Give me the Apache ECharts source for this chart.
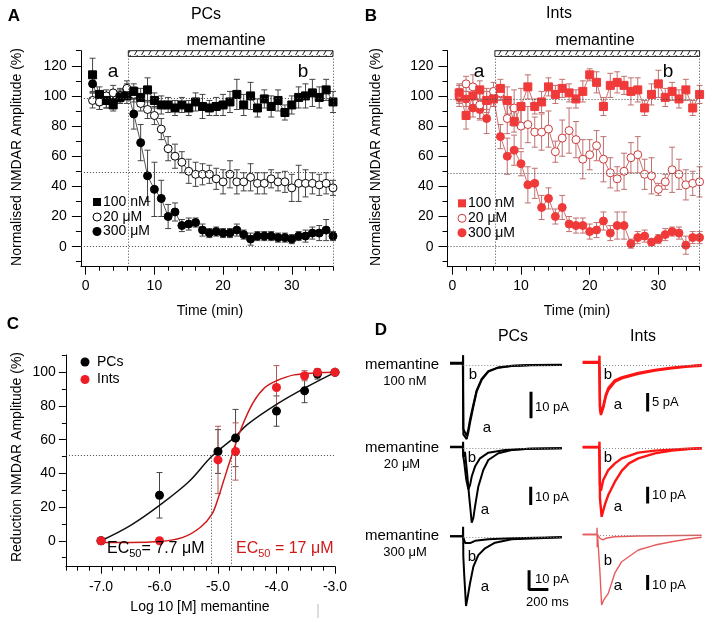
<!DOCTYPE html>
<html>
<head>
<meta charset="utf-8">
<script src="https://cdn.jsdelivr.net/npm/echarts@6/dist/echarts.min.js"></script>
<style>html,body{margin:0;padding:0;background:#fff}#main{width:709px;height:625px}</style>
</head>
<body>
<div id="main"></div>
<script>
// ---------- data ----------
var minutes = [1,2,3,4,5,6,7,8,9,10,11,12,13,14,15,16,17,18,19,20,21,22,23,24,25,26,27,28,29,30,31,32,33,34,35,36];

// panel A (PCs)
var pc100 = [114,101,97,94,99,100,103,99,104,97,94,94,92,94,92,96,93,92,93,94,96,101,94,100,92,98,93,97,89,94,99,100,102,99,104,96];
var pc100Err = [11,5,5,4,4,5,5,6,8,5,6,5,5,5,5,6,8,5,6,7,7,10,7,9,6,6,7,7,5,6,7,8,9,7,7,7];
var pc20 = [97,96,100,102,100,105,101,95,91,87,78,65,60,56,50,48,48,48,45,43,48,43,43,46,42,42,45,43,43,39,42,42,42,41,42,39];
var pc20Err = [5,5,4,5,5,5,5,5,6,6,7,8,8,7,8,8,7,6,7,8,9,8,6,9,7,7,6,6,7,9,12,9,7,7,7,5];
var pc300 = [108,96,97,96,100,104,88,69,47,38,32,20,23,14,15,16,11,9,10,9,9,11,8,5,7,7,7,6,6,5,7,7,9,9,11,7];
var pc300Err = [6,5,5,4,4,4,10,12,17,18,12,8,6,4,4,3,4,3,3,3,3,4,3,4,3,3,3,3,3,3,3,4,4,5,7,3];

// panel B (Ints)
var in100 = [102,87,100,104,97,98,105,97,83,93,106,93,96,106,101,105,102,98,103,114,109,93,107,109,107,103,104,92,101,108,99,103,98,104,92,101];
var in100Err = [6,9,7,6,6,5,6,9,7,12,8,5,7,6,6,6,6,6,7,4,7,6,8,7,6,9,8,5,7,9,6,6,6,7,5,6];
var in20 = [101,108,106,94,97,103,102,85,92,80,81,76,76,78,63,72,77,71,58,61,67,58,49,45,50,59,61,48,47,38,43,51,48,41,42,43];
var in20Err = [6,5,8,10,8,6,5,10,12,15,12,10,12,12,7,12,15,12,13,10,10,15,10,8,12,10,12,10,12,4,5,15,10,10,8,10];
var in300 = [99,98,92,91,85,99,73,60,64,55,41,42,26,32,20,26,15,14,14,10,11,17,9,14,14,2,6,7,3,5,8,10,9,1,6,6];
var in300Err = [6,5,6,6,10,6,8,12,10,8,12,10,8,7,5,8,5,5,5,5,5,6,5,9,9,3,4,4,2,3,4,3,4,6,4,4];

// panel C (dose response)
var logConc = [-7,-6,-5,-4.7,-4,-3.52,-3.3,-3];
var crPCs = [0,27,53,61,77,89,99,100];
var crPCsErr = [1,13.5,13,17,9,7,3,0];
var crInts = [0,0,48,53,91,98,100,100];
var crIntsErr = [2,0,20,17,13,3,2,0];
var fitPCs = [[-7,0],[-6.5,9],[-6,21],[-5.5,35],[-5.11,50],[-4.7,62],[-4.5,69],[-4,81],[-3.5,91],[-3,100]];
var fitInts = [[-7,-1],[-6.5,-1],[-6,-0.5],[-5.6,2],[-5.3,8],[-5.1,16],[-5,25],[-4.9,36],[-4.77,50],[-4.6,67],[-4.4,82],[-4.2,91],[-4,95],[-3.7,98.5],[-3.3,99.7],[-3,100]];

// tick values
var timeTicks = [0,10,20,30];
var timeMinor = [0,2,4,6,8,10,12,14,16,18,20,22,24,26,28,30,32,34,36];
var ampTicks = [0,20,40,60,80,100,120];
var ampMinor = [-10,10,30,50,70,90,110,130];
var logTicks = [-7,-6,-5,-4,-3];
var logMinor = [-7.6,-7.4,-7.2,-7,-6.8,-6.6,-6.4,-6.2,-6,-5.8,-5.6,-5.4,-5.2,-5,-4.8,-4.6,-4.4,-4.2,-4,-3.8,-3.6,-3.4,-3.2,-3];
var redTicks = [0,20,40,60,80,100];
var redMinor = [-10,10,30,50,70,90,110];

// panel D traces: [ms from stimulus, pA]
var pcA1 = [[-138,0.8],[-5,0.8],[-2,3.7],[0,-26],[35,-27.8],[50,-25.5],[69,-21.8],[104,-15.6],[138,-10],[190,-5.6],[259,-2.5],[363,-1.0],[501,-0.4],[700,-0.1],[1020,0]];
var pcB1 = [[-138,0.5],[-5,0.5],[0,-24],[33,-26.5],[50,-24.5],[69,-20.5],[104,-14.8],[138,-9.5],[190,-5.2],[259,-2.3],[363,-0.9],[501,-0.3],[700,0],[1020,0.1]];
var pcA2 = [[-138,0.8],[-5,0.8],[-2,3.6],[0,-4.6],[17,-2],[40,-14],[60,-26],[75,-34],[87,-40.6],[104,-38],[121,-31.9],[155,-21],[207,-11.9],[259,-6.4],[363,-2.7],[501,-0.9],[673,-0.3],[1020,0]];
var pcB2 = [[-138,0.5],[-5,0.5],[0,-4.6],[10,-8],[30,-17],[52,-22.4],[70,-20],[87,-15.4],[121,-10],[173,-5.5],[259,-2.4],[432,-0.9],[700,-0.2],[1020,0]];
var pcA3 = [[-138,0.5],[-5,0.5],[-2,5.5],[0,-10],[10,-20],[28,-35.6],[45,-31],[69,-23.9],[104,-15.2],[155,-9.2],[225,-5.7],[328,-2.8],[501,-1.0],[777,-0.5],[1020,0]];
var pcB3 = [[-138,0.5],[-5,0.5],[0,0],[20,-3],[40,-4],[70,-3],[121,-1.8],[259,-1],[500,-0.5],[1020,0]];
var inA1 = [[-179,0.8],[-8,0.8],[-5,2.5],[0,-12],[10,-13.4],[20,-13],[34,-11.5],[60,-8.5],[86,-6.7],[155,-4.5],[225,-3.6],[397,-2.4],[570,-1.5],[743,-0.9],[915,-0.4],[1054,-0.2]];
var inB1 = [[-179,0.6],[-8,0.6],[0,-11],[10,-12.6],[20,-12.3],[34,-11],[60,-8],[86,-6.2],[155,-4.1],[225,-3.3],[397,-2.1],[570,-1.3],[743,-0.7],[915,-0.3],[1054,0]];
var inA2 = [[-179,0.8],[-8,0.8],[-5,4],[0,-30],[17,-41],[35,-37],[55,-33],[86,-28],[155,-20],[225,-13.5],[300,-9],[397,-6],[570,-3],[743,-1.4],[915,-0.5],[1054,0]];
var inB2 = [[-179,0.6],[-8,0.6],[0,-22],[10,-25.4],[34,-19],[86,-13],[155,-9],[225,-6],[397,-2.6],[570,-1.4],[915,-0.3],[1054,0]];
var inA3 = [[-179,0.5],[-32,0.5],[-30,5],[-28,-8],[-25,0],[0,-25],[17,-46.5],[40,-43],[86,-38.7],[155,-25],[225,-17.6],[397,-9.8],[570,-6.5],[743,-4.3],[915,-2.5],[1054,-1.3]];
var inB3 = [[-179,0.5],[-25,0.5],[0,-2],[30,-3],[60,-2],[150,-1],[400,-0.5],[1054,0]];

// ---------- chart ----------
var FONT = '"Liberation Sans", Arial, sans-serif';
var chart = echarts.init(document.getElementById('main'));

function zip(xs, ys) { return xs.map(function (x, i) { return [x, ys[i]]; }); }
function zip3(xs, ys, es) { return xs.map(function (x, i) { return [x, ys[i], es[i]]; }); }

var grids = [], xAxes = [], yAxes = [], series = [], graphics = [];

function axisPair(list, gi, min, max, major, minor, fmt, pos, majLen, minLen, margin) {
  list.push({
    type: 'value', gridIndex: gi, min: min, max: max, position: pos,
    axisLine: { show: true, onZero: false, lineStyle: { color: '#000', width: 1 } },
    axisTick: { show: true, customValues: major, length: majLen, lineStyle: { color: '#000' } },
    axisLabel: { show: true, customValues: major, formatter: fmt, margin: margin, color: '#000', fontSize: 14, fontFamily: FONT },
    splitLine: { show: false }
  });
  list.push({
    type: 'value', gridIndex: gi, min: min, max: max, position: pos,
    axisLine: { show: false, onZero: false },
    axisTick: { show: true, customValues: minor, length: minLen, lineStyle: { color: '#000' } },
    axisLabel: { show: false }, splitLine: { show: false }
  });
}

function errBars(xi, yi, data, color) {
  return {
    type: 'custom', xAxisIndex: xi, yAxisIndex: yi, data: data, z: 1, silent: true,
    renderItem: function (params, api) {
      var x = api.value(0), y = api.value(1), e = api.value(2);
      if (!e) return null;
      var t = api.coord([x, y + e]), b = api.coord([x, y - e]);
      var st = { stroke: color, lineWidth: 1 };
      return { type: 'group', children: [
        { type: 'line', shape: { x1: t[0], y1: t[1], x2: b[0], y2: b[1] }, style: st },
        { type: 'line', shape: { x1: t[0] - 3, y1: t[1], x2: t[0] + 3, y2: t[1] }, style: st },
        { type: 'line', shape: { x1: b[0] - 3, y1: b[1], x2: b[0] + 3, y2: b[1] }, style: st }
      ] };
    }
  };
}

function pts(xi, yi, data, symbol, size, fill, border, lineColor, extra) {
  var s = {
    type: 'line', xAxisIndex: xi, yAxisIndex: yi, data: data, z: 3,
    symbol: symbol, symbolSize: size, showAllSymbol: true,
    itemStyle: { color: fill, borderColor: border, borderWidth: 1, opacity: 1 },
    lineStyle: { color: lineColor, width: 1 }, silent: true
  };
  for (var k in extra) s[k] = extra[k];
  return s;
}

function txt(x, y, s, size, opt) {
  opt = opt || {};
  graphics.push({
    type: 'text', x: x, y: y, rotation: opt.rot || 0, z: 100, silent: true,
    style: {
      text: s, fill: opt.color || '#000', font: (opt.bold ? 'bold ' : '') + size + 'px ' + FONT,
      textAlign: opt.align || 'center', textVerticalAlign: 'middle', rich: opt.rich
    }
  });
}

// hatch pattern for the drug bar
var hatch = document.createElement('canvas');
hatch.width = 7; hatch.height = 5;
var hc = hatch.getContext('2d');
hc.fillStyle = '#fff'; hc.fillRect(0, 0, 7, 5);
hc.strokeStyle = '#222'; hc.lineWidth = 1;
hc.beginPath(); hc.moveTo(1.5, 5); hc.lineTo(4.5, 0); hc.stroke();

var dotted = { type: [1, 2], color: '#444', width: 1 };

// ---- panels A and B ----
function timePanel(gi, left, s100, e100, s20, e20, s300, e300, col) {
  grids.push({ left: left, top: 50.7, width: 252.1, height: 216 });
  var xi = xAxes.length, yi = yAxes.length;
  axisPair(xAxes, gi, -0.7, 36, timeTicks, timeMinor, function (v) { return v; }, 'bottom', 8, 4, 12);
  axisPair(yAxes, gi, -13.3, 130, ampTicks, ampMinor, function (v) { return v; }, 'left', 9, 5, 14);
  series.push(errBars(xi, yi, zip3(minutes, s300, e300), col.err));
  series.push(errBars(xi, yi, zip3(minutes, s20, e20), col.err));
  series.push(errBars(xi, yi, zip3(minutes, s100, e100), col.err));
  series.push(pts(xi, yi, zip(minutes, s300), 'circle', 8, col.pt, col.pt, col.line, {}));
  series.push(pts(xi, yi, zip(minutes, s20), 'circle', 8, '#fff', col.open, col.line, {}));
  series.push(pts(xi, yi, zip(minutes, s100), 'rect', 8, col.pt, col.pt, col.line, {
    markLine: {
      silent: true, symbol: ['none', 'none'], label: { show: false }, lineStyle: dotted, animation: false,
      data: [
        [{ coord: [-0.7, col.h1] }, { coord: [36, col.h1] }],
        [{ coord: [-0.7, col.h2] }, { coord: [36, col.h2] }],
        [{ coord: [-0.7, 0] }, { coord: [36, 0] }],
        [{ coord: [6.2, -13.3] }, { coord: [6.2, 126] }],
        [{ coord: [36, -13.3] }, { coord: [36, 126] }]
      ]
    },
    markArea: {
      silent: true, animation: false,
      itemStyle: { color: { image: hatch, repeat: 'repeat' }, borderColor: '#222', borderWidth: 1, opacity: 1 },
      data: [[{ coord: [6.2, 126.2] }, { coord: [36, 130] }]]
    }
  }));
}

timePanel(0, 80.9, pc100, pc100Err, pc20, pc20Err, pc300, pc300Err,
  { pt: '#000', open: '#000', line: '#555', err: '#444', h1: 98.4, h2: 49.3 });
timePanel(1, 447.5, in100, in100Err, in20, in20Err, in300, in300Err,
  { pt: '#f03a3a', open: '#cc3a3a', line: '#d07070', err: '#c07070', h1: 97.9, h2: 48.7 });

// ---- panel C ----
grids.push({ left: 65.9, top: 355, width: 269.1, height: 211.7 });
axisPair(xAxes, 2, -7.6, -3.0, logTicks, logMinor, function (v) { return v.toFixed(1); }, 'bottom', 7, 4, 13);
axisPair(yAxes, 2, -15.4, 110.3, redTicks, redMinor, function (v) { return v; }, 'left', 7, 4, 10);
series.push({
  type: 'line', xAxisIndex: 4, yAxisIndex: 4, data: fitPCs, smooth: 0.35, symbol: 'none', z: 2,
  lineStyle: { color: '#111', width: 1.5 }, silent: true,
  markLine: {
    silent: true, symbol: ['none', 'none'], label: { show: false }, lineStyle: dotted, animation: false,
    data: [
      [{ coord: [-7.6, 50.5] }, { coord: [-3, 50.5] }],
      [{ coord: [-5.11, -15.4] }, { coord: [-5.11, 50.5] }],
      [{ coord: [-4.77, -15.4] }, { coord: [-4.77, 50.5] }]
    ]
  }
});
series.push({
  type: 'line', xAxisIndex: 4, yAxisIndex: 4, data: fitInts, smooth: 0.35, symbol: 'none', z: 2,
  lineStyle: { color: '#d01818', width: 1.5 }, silent: true
});
series.push(errBars(4, 4, zip3(logConc, crPCs, crPCsErr), '#444'));
series.push(errBars(4, 4, zip3(logConc, crInts, crIntsErr), '#b05a5a'));
series.push({ type: 'scatter', xAxisIndex: 4, yAxisIndex: 4, data: zip(logConc, crPCs), symbolSize: 9, z: 3, itemStyle: { color: '#000', opacity: 1 }, silent: true });
series.push({ type: 'scatter', xAxisIndex: 4, yAxisIndex: 4, data: zip(logConc, crInts), symbolSize: 9, z: 4, itemStyle: { color: '#ee1c25', opacity: 1 }, silent: true });

// ---- panel D ----
var traceCols = [
  { left: 450, width: 112, min: -138, max: 1022 },
  { left: 582.7, width: 119, min: -179, max: 1054 }
];
var traceRows = [
  [{ top: 349, height: 96, ymin: -30, ymax: 6 }, { top: 353.8, height: 63.4, ymin: -14, ymax: 3 }],
  [{ top: 437.3, height: 91.5, ymin: -44, ymax: 6 }, { top: 438.3, height: 83.5, ymin: -44, ymax: 6 }],
  [{ top: 523.8, height: 86.9, ymin: -38, ymax: 7 }, { top: 523.3, height: 84, ymin: -48, ymax: 8 }]
];
var traceSets = [
  [[pcA1, pcB1, [[701, -10], [701, -20]]], [inA1, inB1, [[494, -7.5], [494, -12.5]]]],
  [[pcA2, pcB2, [[698, -21], [698, -31]]], [inA2, inB2, [[494, -23], [494, -33]]]],
  [[pcA3, pcB3, [[681, -17], [681, -27], [881, -27]]], [inA3, inB3, [[494, -26.5], [494, -36.5]]]]
];
for (var r = 0; r < 3; r++) {
  for (var c = 0; c < 2; c++) {
    var gi = grids.length, col = traceCols[c], row = traceRows[r][c];
    grids.push({ left: col.left, width: col.width, top: row.top, height: row.height });
    xAxes.push({ type: 'value', gridIndex: gi, min: col.min, max: col.max, show: false });
    yAxes.push({ type: 'value', gridIndex: gi, min: row.ymin, max: row.ymax, show: false });
    var ai = xAxes.length - 1;
    var color = c === 0 ? '#000' : (r === 2 ? '#e85a5a' : '#ff1414');
    var lw = c === 0 ? 2 : (r === 2 ? 1.4 : 2.4);
    var set = traceSets[r][c];
    series.push({
      type: 'line', xAxisIndex: ai, yAxisIndex: ai, data: set[1], symbol: 'none', clip: false, z: 3,
      lineStyle: { color: color, width: lw }, silent: true,
      markLine: {
        silent: true, symbol: ['none', 'none'], label: { show: false }, animation: false,
        lineStyle: { type: [1, 2], color: '#888', width: 1 },
        data: [[{ coord: [0, 0] }, { coord: [col.max, 0] }]]
      }
    });
    series.push({
      type: 'line', xAxisIndex: ai, yAxisIndex: ai, data: set[0], symbol: 'none', clip: false, z: 4,
      lineStyle: { color: color, width: lw }, silent: true
    });
    series.push({
      type: 'line', xAxisIndex: ai, yAxisIndex: ai, data: set[2], symbol: 'none', clip: false, z: 4,
      lineStyle: { color: '#000', width: 3, cap: 'butt' }, silent: true
    });
  }
}

// ---- texts ----
txt(14, 16, 'A', 17, { bold: true });
txt(371, 16, 'B', 17, { bold: true });
txt(13, 324, 'C', 17, { bold: true });
txt(381, 330, 'D', 17, { bold: true });
txt(206, 15, 'PCs', 16);
txt(559, 14, 'Ints', 16);
txt(226, 41, 'memantine', 16);
txt(595, 41, 'memantine', 16);
txt(113, 72, 'a', 19); txt(303, 72, 'b', 19);
txt(479, 72, 'a', 19); txt(668, 72, 'b', 19);
txt(17, 157, 'Normalised NMDAR Amplitude (%)', 14, { rot: Math.PI / 2 });
txt(376, 157, 'Normalised NMDAR Amplitude (%)', 14, { rot: Math.PI / 2 });
txt(210, 311, 'Time (min)', 14);
txt(577, 311, 'Time (min)', 14);
txt(17, 457, 'Reduction NMDAR Amplitude (%)', 14, { rot: Math.PI / 2 });
txt(200, 607, 'Log 10 [M] memantine', 14);

// legends A, B
function legendMarks(x, y0, col, open) {
  graphics.push({ type: 'rect', shape: { x: x - 4, y: y0 - 4, width: 8, height: 8 }, style: { fill: col }, z: 100 });
  graphics.push({ type: 'circle', shape: { cx: x, cy: y0 + 15, r: 4 }, style: { fill: '#fff', stroke: open, lineWidth: 1 }, z: 100 });
  graphics.push({ type: 'circle', shape: { cx: x, cy: y0 + 29.5, r: 4.5 }, style: { fill: col }, z: 100 });
  txt(x + 6, y0, '100 nM', 14, { align: 'left' });
  txt(x + 6, y0 + 15, '20 μM', 14, { align: 'left' });
  txt(x + 6, y0 + 29.5, '300 μM', 14, { align: 'left' });
}
legendMarks(97, 202, '#000', '#000');
legendMarks(462, 203.3, '#f03a3a', '#cc3a3a');

// legend C
graphics.push({ type: 'circle', shape: { cx: 85, cy: 362, r: 4.5 }, style: { fill: '#000' }, z: 100 });
graphics.push({ type: 'circle', shape: { cx: 85, cy: 379.5, r: 4.5 }, style: { fill: '#ee1c25' }, z: 100 });
txt(97, 362, 'PCs', 14, { align: 'left' });
txt(97, 379.5, 'Ints', 14, { align: 'left' });

// EC50 labels
var ecRich = function (color) {
  return { n: { fontSize: 16, fontFamily: FONT, fill: color, color: color }, s: { fontSize: 11, fontFamily: FONT, color: color, padding: [9, 0, 0, 0] } };
};
txt(107, 549, '{n|EC}{s|50}{n|= 7.7 μM}', 16, { align: 'left', rich: ecRich('#000') });
txt(236, 549, '{n|EC}{s|50}{n| = 17 μM}', 16, { align: 'left', color: '#d01818', rich: ecRich('#d01818') });
graphics.push({ type: 'line', shape: { x1: 318, y1: 604, x2: 318, y2: 618 }, style: { stroke: '#bbb', lineWidth: 1 }, z: 100 });

// panel D labels
txt(513, 337, 'PCs', 16);
txt(643, 337, 'Ints', 16);
txt(402, 365, 'memantine', 15); txt(405, 381, '100 nM', 13);
txt(402, 448, 'memantine', 15); txt(402, 464, '20 μM', 13);
txt(402, 536, 'memantine', 15); txt(405, 552, '300 μM', 13);
txt(473, 375, 'b', 15); txt(487, 428, 'a', 15);
txt(472, 458, 'b', 15); txt(485, 510, 'a', 15);
txt(472, 557, 'b', 15); txt(485, 587, 'a', 15);
txt(608, 375, 'b', 15); txt(618, 405, 'a', 15);
txt(608, 458, 'b', 15); txt(618, 507, 'a', 15);
txt(608, 561, 'b', 15); txt(618, 586, 'a', 15);
txt(535, 407, '10 pA', 13, { align: 'left' });
txt(535, 497, '10 pA', 13, { align: 'left' });
txt(535, 579, '10 pA', 13, { align: 'left' });
txt(526, 602, '200 ms', 13, { align: 'left' });
txt(652, 402, '5 pA', 13, { align: 'left' });
txt(652, 495, '10 pA', 13, { align: 'left' });
txt(652, 585, '10 pA', 13, { align: 'left' });

chart.setOption({
  backgroundColor: '#fff',
  animation: false,
  grid: grids,
  xAxis: xAxes,
  yAxis: yAxes,
  series: series,
  graphic: graphics
});
</script>
</body>
</html>
